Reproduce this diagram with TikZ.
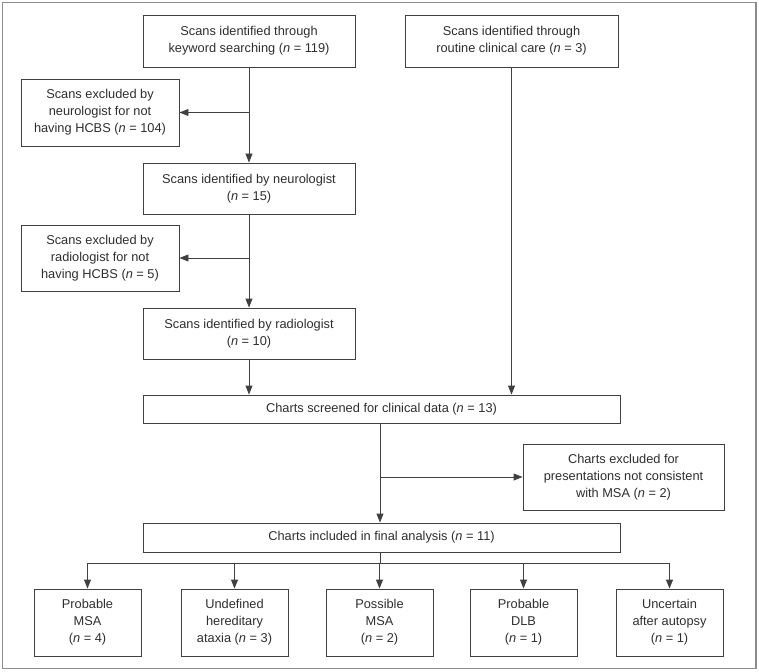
\documentclass[tikz,border=0pt]{standalone}
\usepackage{fontspec}
\setmainfont{Liberation Sans}
\usetikzlibrary{arrows.meta}

\definecolor{linegray}{HTML}{404040}
\definecolor{textgray}{HTML}{2E2E2E}
\definecolor{framegray}{HTML}{8C8C8C}

\tikzset{
  box/.style={draw=linegray, line width=0.9pt, align=center, text=textgray,
    inner sep=2pt, font=\fontsize{12.8}{17}\selectfont},
  flow/.style={draw=linegray, line width=0.9pt},
  arr/.style={flow, -{Triangle[length=9pt,width=7pt]}}
}

\begin{document}
\begin{tikzpicture}[x=1pt,y=-1pt]

  \useasboundingbox (0,0) rectangle (759,671);
  \draw[framegray, line width=1.5pt] (2.5,2.5) rectangle (756,668.5);

  % scans
  \node[box, minimum width=212pt, minimum height=52pt] at (249,41) (kw)
    {Scans identified through\\keyword searching (\textit{n} = 119)};
  \node[box, minimum width=213pt, minimum height=52pt] at (511.5,41) (rc)
    {Scans identified through\\routine clinical care (\textit{n} = 3)};
  \node[box, minimum width=158pt, minimum height=67pt] at (100,112.5) (exN)
    {Scans excluded by\\neurologist for not\\having HCBS (\textit{n} = 104)};
  \node[box, minimum width=212pt, minimum height=51pt] at (249,188.5) (neu)
    {Scans identified by neurologist\\(\textit{n} = 15)};
  \node[box, minimum width=158pt, minimum height=66pt] at (100,258) (exR)
    {Scans excluded by\\radiologist for not\\having HCBS (\textit{n} = 5)};
  \node[box, minimum width=212pt, minimum height=51pt] at (249,333.5) (rad)
    {Scans identified by radiologist\\(\textit{n} = 10)};

  % charts
  \node[box, minimum width=477pt, minimum height=28pt] at (381.5,409) (scr)
    {Charts screened for clinical data (\textit{n} = 13)};
  \node[box, minimum width=201pt, minimum height=66pt] at (623.5,477) (exC)
    {Charts excluded for\\presentations not consistent\\with MSA (\textit{n} = 2)};
  \node[box, minimum width=477pt, minimum height=29pt] at (381.5,537.5) (inc)
    {Charts included in final analysis (\textit{n} = 11)};

  % outcomes
  \node[box, minimum width=107pt, minimum height=67pt] at (87.5,622.5) (B1)
    {Probable\\MSA\\(\textit{n} = 4)};
  \node[box, minimum width=107pt, minimum height=67pt] at (234.5,622.5) (B2)
    {Undefined\\hereditary\\ataxia (\textit{n} = 3)};
  \node[box, minimum width=107pt, minimum height=67pt] at (379.5,622.5) (B3)
    {Possible\\MSA\\(\textit{n} = 2)};
  \node[box, minimum width=107pt, minimum height=67pt] at (523.5,622.5) (B4)
    {Probable\\DLB\\(\textit{n} = 1)};
  \node[box, minimum width=107pt, minimum height=67pt] at (669.5,622.5) (B5)
    {Uncertain\\after autopsy\\(\textit{n} = 1)};

  \coordinate (split) at (380,563);

  \draw[arr] (kw) -- (neu);
  \draw[arr] (kw.south |- exN.east) -- (exN);
  \draw[arr] (neu) -- (rad);
  \draw[arr] (neu.south |- exR.east) -- (exR);
  \draw[arr] (rad) -- (rad |- scr.north);
  \draw[arr] (rc) -- (rc |- scr.north);

  \draw[arr] (scr.south -| split) -- (inc.north -| split);
  \draw[arr] (split |- exC.west) -- (exC);

  \draw[flow] (inc.south -| split) -- (split);
  \draw[flow] (B1 |- split) -- (B5 |- split);
  \foreach \b in {B1,B2,B3,B4,B5}
    \draw[arr] (\b |- split) -- (\b);

\end{tikzpicture}
\end{document}
